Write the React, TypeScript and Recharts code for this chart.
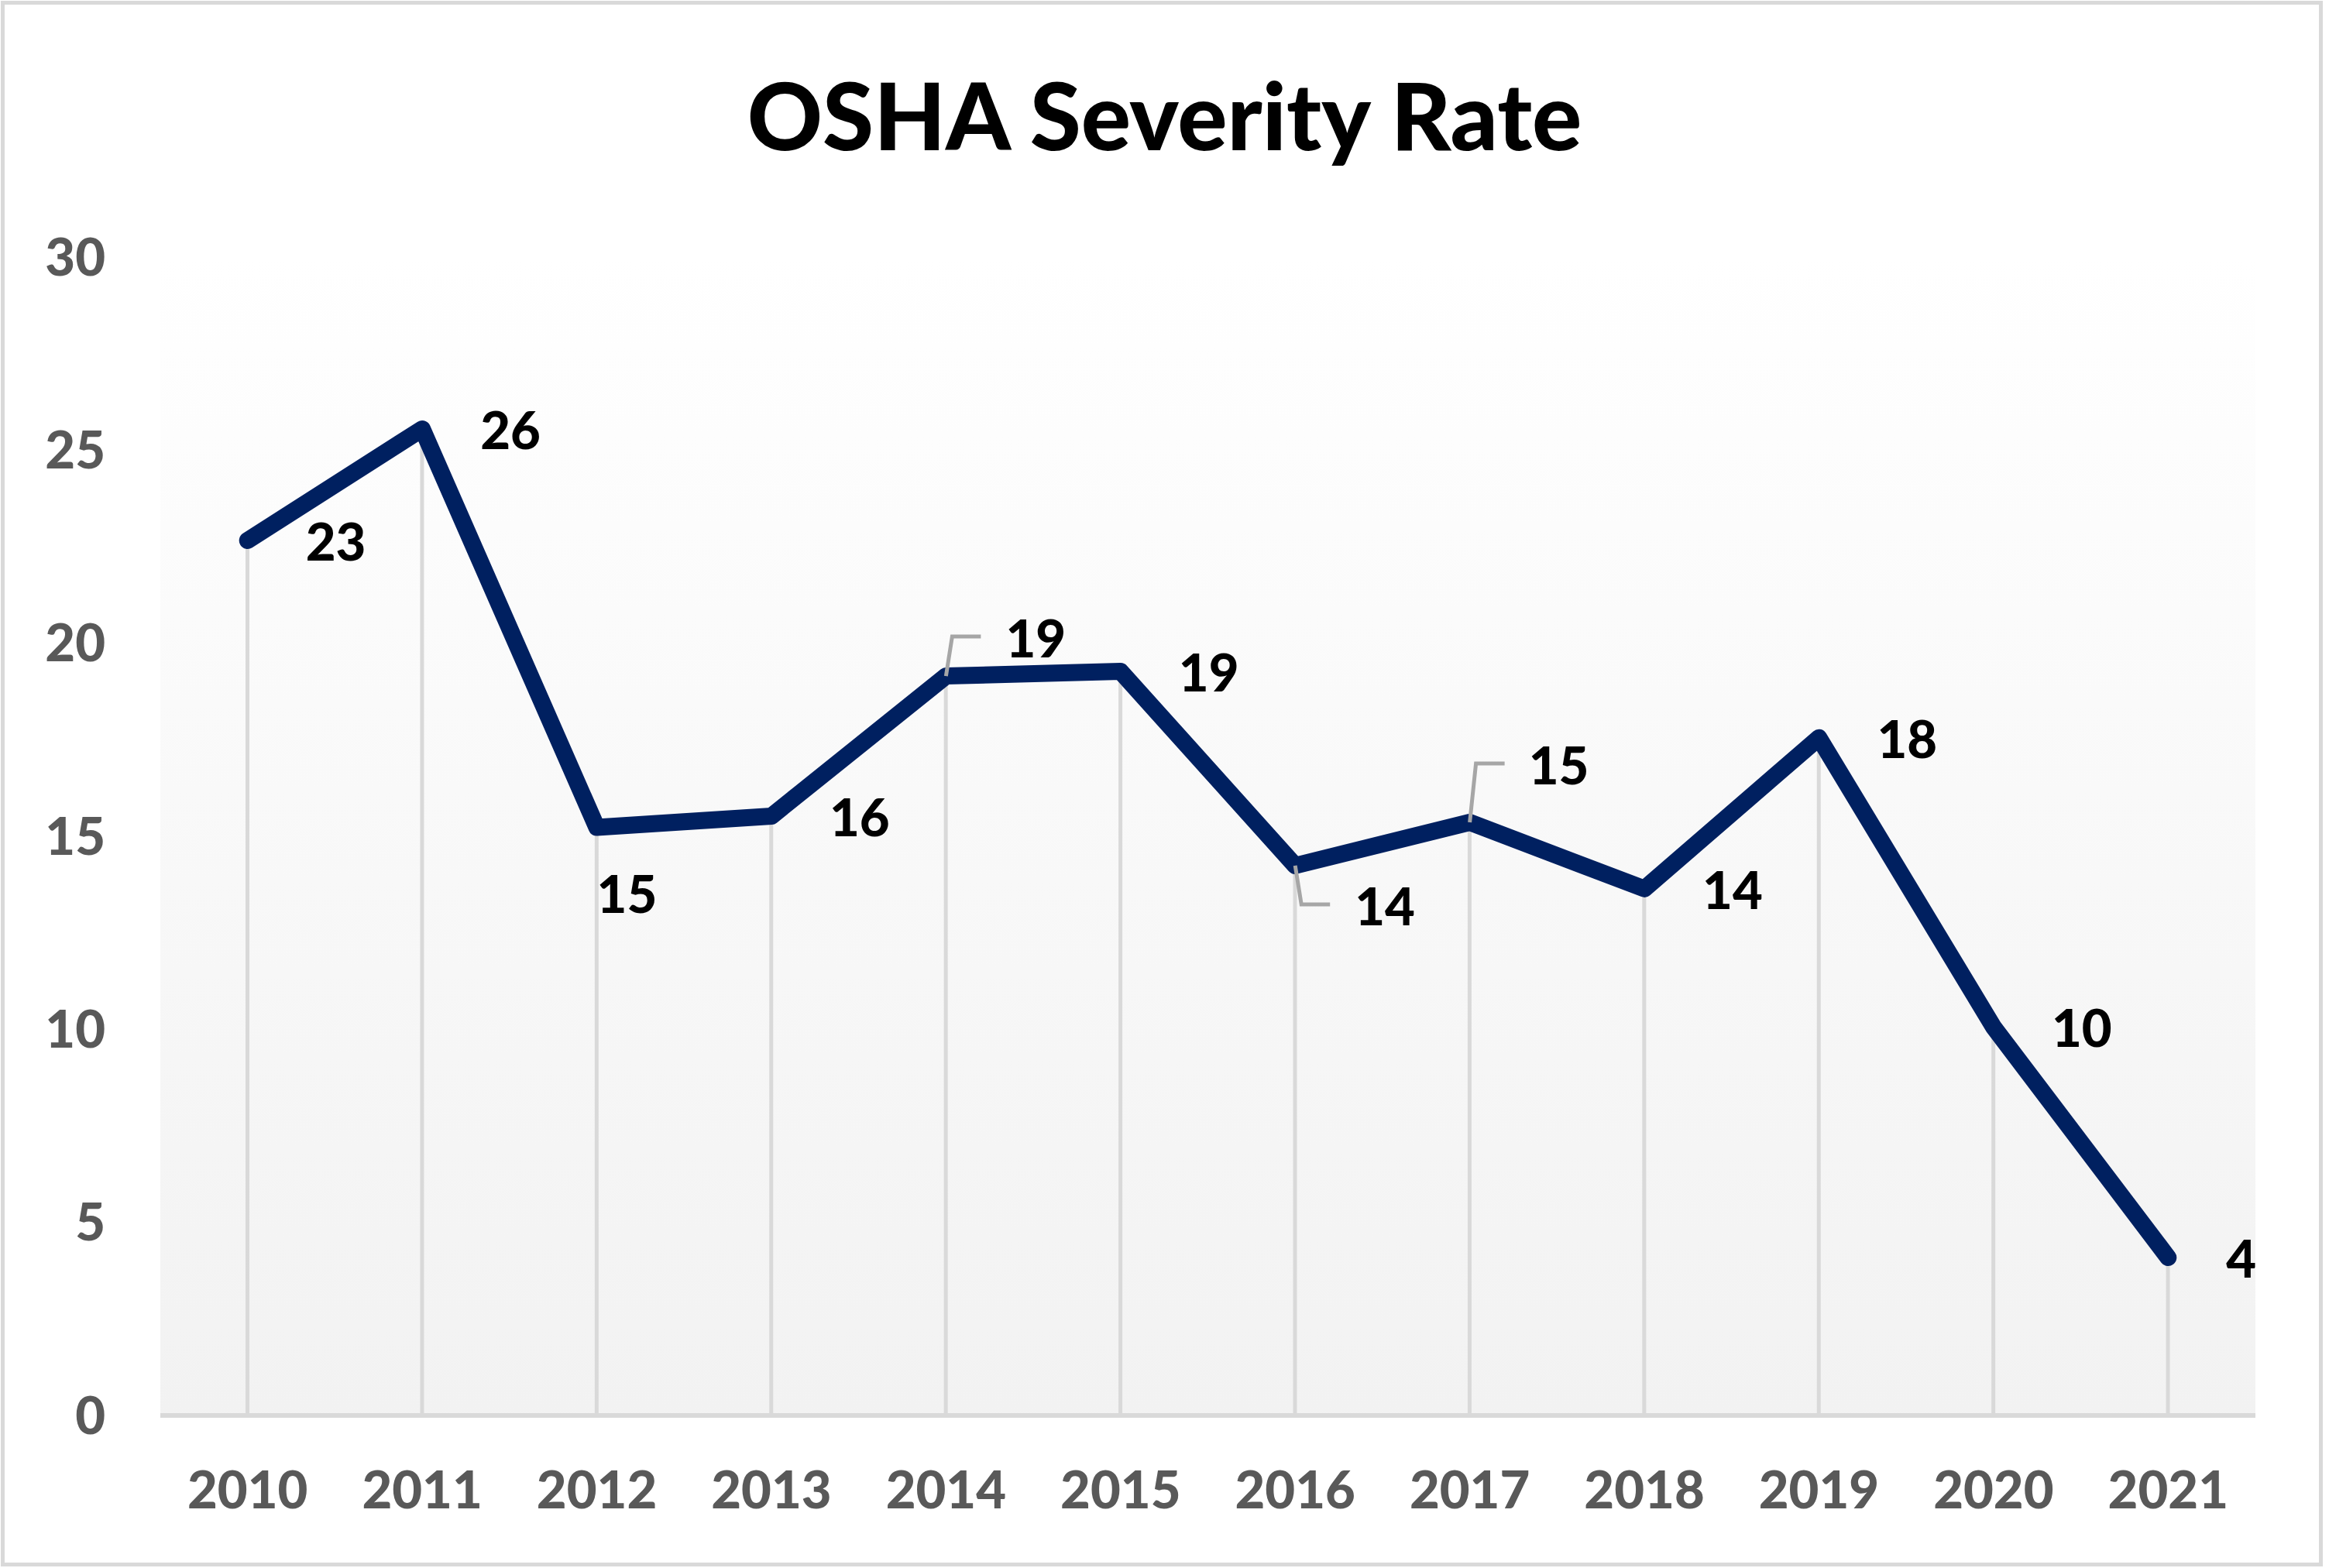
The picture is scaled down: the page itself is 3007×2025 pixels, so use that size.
import React from 'react';
import { ComposedChart, Line, Bar, XAxis, YAxis, CartesianGrid, LabelList } from 'recharts';

const YEARS = ['2010', '2011', '2012', '2013', '2014', '2015', '2016', '2017', '2018', '2019', '2020', '2021'];
const SEVERITY = [22.66, 25.55, 15.23, 15.52, 19.15, 19.27, 14.24, 15.36, 13.64, 17.55, 10.06, 4.09];
const Y_TICKS = [0, 5, 10, 15, 20, 25, 30];

const data = YEARS.map((year, i) => ({ year, value: SEVERITY[i] }));

const FONT = 'Lato, "Open Sans", sans-serif';
const NAVY = '#002060';
const TICK_GRAY = '#595959';
const LIGHT = '#d9d9d9';
const HEAVY = 900;

// label placement tweaks (Excel labels were dragged around a bit)
const DEFAULT_NUDGE = { dx: 75, dy: 2, leader: false };
const LABEL_NUDGE: Record<number, { dx: number; dy: number; leader: boolean }> = {
  2: { dx: 0, dy: 86, leader: false },
  4: { dx: 77, dy: -48, leader: true },
  6: { dx: 77, dy: 53, leader: true },
  7: { dx: 76, dy: -73, leader: true },
};

const renderLabel = (props: any) => {
  const { x, y, value, index } = props;
  const n = LABEL_NUDGE[index] ?? DEFAULT_NUDGE;
  const cy = y + n.dy;
  return (
    <g key={`lbl-${index}`}>
      {n.leader && (
        <polyline
          points={`${x},${y} ${x + 8},${cy - 3} ${x + 45},${cy - 3}`}
          fill="none"
          stroke="#a6a6a6"
          strokeWidth={5}
        />
      )}
      <text
        x={x + n.dx}
        y={cy + 24}
        textAnchor="start"
        fontFamily={FONT}
        fontWeight={HEAVY}
        fontSize={67}
        fill="#000000"
      >
        {Math.round(value)}
      </text>
    </g>
  );
};

export default function App() {
  return (
    <div style={{ position: 'relative', width: 3007, height: 2025, background: '#ffffff' }}>
      <style>{'body{margin:0}'}</style>
      <div
        style={{
          position: 'absolute',
          left: 1,
          top: 1,
          width: 2998,
          height: 2022,
          border: `5px solid ${LIGHT}`,
          boxSizing: 'border-box',
        }}
      />
      <div
        style={{
          position: 'absolute',
          left: 0,
          top: 76,
          width: 3007,
          textAlign: 'center',
          fontFamily: FONT,
          fontWeight: HEAVY,
          fontSize: 120,
          lineHeight: 1.2,
          color: '#000000',
        }}
      >
        OSHA Severity Rate
      </div>
      <div style={{ position: 'absolute', left: 0, top: 0 }}>
        <ComposedChart
          width={3007}
          height={2025}
          data={data}
          margin={{ top: 332, right: 95, bottom: 47, left: 57 }}
        >
          <defs>
            <linearGradient id="plotBg" x1="0" y1="0" x2="0" y2="1">
              <stop offset="0%" stopColor="#ffffff" />
              <stop offset="100%" stopColor="#f2f2f2" />
            </linearGradient>
          </defs>
          <CartesianGrid horizontal={false} vertical={false} fill="url(#plotBg)" />
          <XAxis
            dataKey="year"
            height={150}
            tickLine={false}
            tickSize={0}
            tickMargin={72}
            axisLine={{ stroke: LIGHT, strokeWidth: 6 }}
            tick={{ fill: TICK_GRAY, fontFamily: FONT, fontWeight: HEAVY, fontSize: 67 }}
            interval={0}
          />
          <YAxis
            width={150}
            domain={[0, 30]}
            ticks={Y_TICKS}
            axisLine={false}
            tickLine={false}
            tickSize={0}
            tickMargin={71}
            tick={{ fill: TICK_GRAY, fontFamily: FONT, fontWeight: HEAVY, fontSize: 67 }}
          />
          {/* drop lines */}
          <Bar dataKey="value" barSize={5} fill={LIGHT} isAnimationActive={false} />
          <Line
            dataKey="value"
            type="linear"
            stroke={NAVY}
            strokeWidth={22}
            strokeLinecap="round"
            strokeLinejoin="round"
            dot={false}
            activeDot={false}
            isAnimationActive={false}
          >
            <LabelList dataKey="value" content={renderLabel} />
          </Line>
        </ComposedChart>
      </div>
    </div>
  );
}
